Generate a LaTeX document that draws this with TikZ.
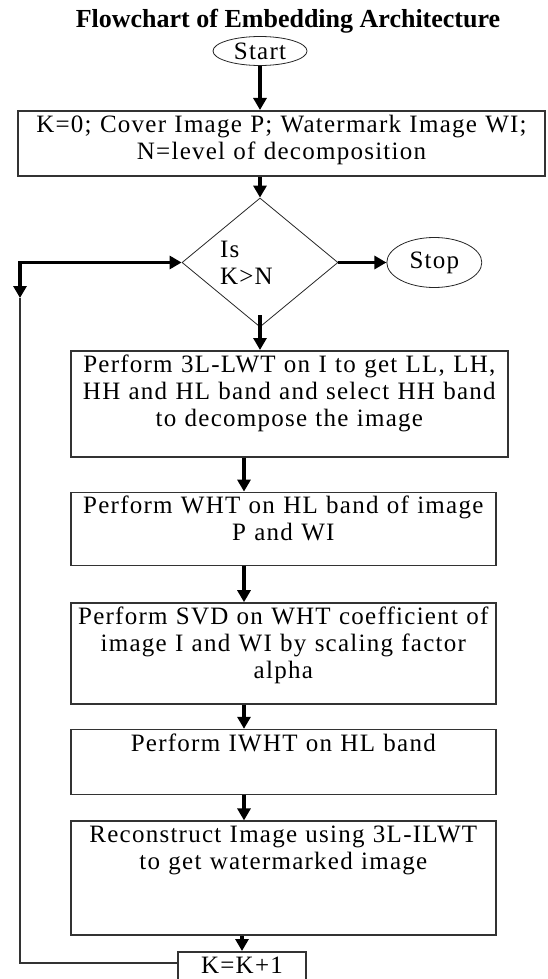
\documentclass[tikz,border=0pt]{standalone}
\usepackage{fontspec}
\setmainfont{Liberation Serif}
\newfontfamily\spacedfont[LetterSpace=5]{Liberation Serif}
\usetikzlibrary{positioning, arrows.meta, shapes.geometric}

\begin{document}
\begin{tikzpicture}[
		x=1pt, y=-1pt,
		>={Triangle[length=12pt, width=13pt]},
		txt/.style={font=\spacedfont\fontsize{25}{27}\selectfont},
		terminal/.style={txt, ellipse, draw=black!85, line width=0.8pt, inner sep=0pt},
		stepbox/.style={txt, rectangle, draw=black!80, line width=1.6pt, align=center, inner xsep=2pt, inner ysep=3pt, text height=18.5pt},
		decision/.style={txt, diamond, draw=black!85, line width=0.8pt, inner sep=0pt, align=left},
		flow/.style={->, line width=3.5pt},
		back/.style={draw=black!80, line width=1.5pt}
		]
		\useasboundingbox (0,0) rectangle (547,979);
		
		% --- 1. Title and start ---
		\node[font=\bfseries\fontsize{26}{30}\selectfont] (title) at (288,21) {Flowchart of Embedding Architecture};
		\node[terminal, minimum width=94pt, minimum height=29pt] (start) at (260,51) {Start};
		
		% --- 2. Set up and loop test ---
		\node[stepbox, anchor=north, text width=523pt, text depth=40.5pt] (init) at (281.5,110)
			{K=0; Cover Image P;  Watermark Image WI;\\ N=level of decomposition};
		\node[decision, minimum width=156pt, minimum height=129pt, text width=80pt] (test) at (260,262.5) {Is\\ K>N};
		\node[terminal, minimum width=95pt, minimum height=50pt, right=48pt of test] (stop) {Stop};
		
		% --- 3. Embedding steps ---
		\node[stepbox, anchor=north west, text width=433pt, text depth=81.5pt] (lwt) at (70,350)
			{Perform 3L-LWT on I to get LL, LH,\\ HH and HL band and select HH band\\ to decompose the image};
		\node[stepbox, below=34pt of lwt.south west, anchor=north west, text width=421pt, text depth=48.5pt] (wht)
			{Perform WHT on HL band of image\\ P and WI};
		\node[stepbox, below=36pt of wht, text width=421pt, text depth=76.5pt] (svd)
			{Perform SVD on WHT coefficient of\\ image I and WI by scaling factor\\ alpha};
		\node[stepbox, below=24pt of svd, text width=421pt, text depth=40.5pt] (iwht) {Perform IWHT on HL band};
		\node[stepbox, below=25pt of iwht, text width=421pt, text depth=89.5pt] (ilwt)
			{Reconstruct Image using 3L-ILWT\\ to get watermarked image};
		\node[stepbox, anchor=north, text width=124pt, text depth=30pt] (inc) at (242,951) {K=K+1};
		
		% --- 4. Arrows ---
		\coordinate (col) at (244,0);
		\coordinate (bend) at (20,298);
		\draw[flow] (start) -- (init.north -| start);
		\draw[flow] (init.south -| test) -- (test.north);
		\draw[flow] ([yshift=12pt]test.south) -- (lwt.north -| test);
		\draw[flow] (test) -- (stop);
		\draw[flow] (lwt.south -| col) -- (wht.north -| col);
		\draw[flow] (wht.south -| col) -- (svd.north -| col);
		\draw[flow] (svd.south -| col) -- (iwht.north -| col);
		\draw[flow] (iwht.south -| col) -- (ilwt.north -| col);
		\draw[flow] (ilwt.south -| inc) -- (inc);
		
		% Back to the test
		\draw[back] ([yshift=-12pt]inc.north west) -| (bend);
		\draw[flow, <->] (bend) |- (test.west);
		
	\end{tikzpicture}
\end{document}
